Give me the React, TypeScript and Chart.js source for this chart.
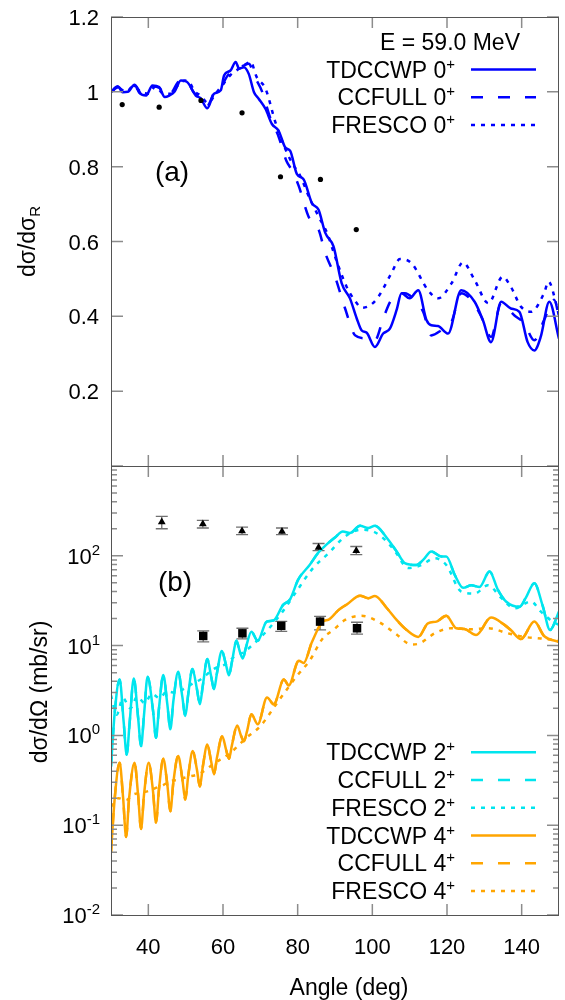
import React, { useEffect, useRef } from "react";
import { Chart, registerables } from "chart.js";
Chart.register(...registerables);

type Pt = [number, number];

const FONT = '"Liberation Sans", Arial, Helvetica, sans-serif';
const BLUE = "#0000ff";
const CYAN = "#00e5ee";
const ORANGE = "#ffa500";

// Axis ticks
const X_TICKS = [40, 60, 80, 100, 120, 140];
const YA_TICKS = [0.2, 0.4, 0.6, 0.8, 1.0, 1.2];
const YA_TICK_LABELS = ["0.2", "0.4", "0.6", "0.8", "1", "1.2"];
const YB_LABEL_EXPONENTS = [-2, -1, 0, 1, 2];

// Panel (a): elastic ratio, experiment
const EXP0_ANGLE = [33.0, 42.9, 54.1, 65.1, 75.4, 86.1, 95.7];
const EXP0_RATIO = [0.966, 0.959, 0.977, 0.944, 0.773, 0.766, 0.632];

// Panel (b): experiment (triangles: 2+, squares: 4+)
const EXP_TRI_ANGLE = [43.6, 54.6, 65.1, 75.8, 85.6, 95.7];
const EXP_TRI_XS = [238, 226, 189, 187, 124, 114];
const EXP_TRI_LO = [200, 204, 172, 172, 114, 103];
const EXP_TRI_HI = [275, 248, 209, 204, 137, 127];

const EXP_SQ_ANGLE = [54.7, 65.2, 75.6, 86.0, 95.9];
const EXP_SQ_XS = [12.8, 13.7, 16.6, 18.5, 15.6];
const EXP_SQ_LO = [11.0, 11.9, 14.4, 15.0, 13.4];
const EXP_SQ_HI = [14.6, 15.6, 18.6, 21.2, 18.2];

// Panel (a) calculations [angle, ratio]
const TD0: Pt[] = [[30,1.0],[31.8,1.015],[33.1,0.999],[34.5,1.0],[36.3,1.019],[37.6,0.997],[39.4,0.99],[41.1,1.017],[42.9,1.013],[44.4,0.986],[45.6,0.99],[47.0,1.0],[48.7,1.03],[50.3,1.027],[52.7,0.99],[54.0,0.983],[55.8,0.956],[57.6,0.995],[59.4,1.004],[60.3,1.044],[62.0,1.057],[63.4,1.08],[64.3,1.062],[65.6,1.066],[66.9,1.048],[68.3,0.999],[69.6,0.981],[71.4,0.954],[73.1,0.914],[74.9,0.896],[76.7,0.851],[78.0,0.842],[79.8,0.78],[81.6,0.766],[83.8,0.703],[85.6,0.685],[87.4,0.623],[89.6,0.587],[91.8,0.488],[94.0,0.448],[95.8,0.395],[97.1,0.363],[98.5,0.356],[100.7,0.318],[102.9,0.354],[104.7,0.367],[106.5,0.417],[107.8,0.462],[110.0,0.448],[112.3,0.47],[114.5,0.39],[115.8,0.376],[117.6,0.374],[120.3,0.354],[123.8,0.47],[127.4,0.439],[129.6,0.39],[131.8,0.331],[134.5,0.439],[137.1,0.421],[139.4,0.412],[141.6,0.331],[143.4,0.309],[145.1,0.345],[147.4,0.439],[150,0.34]];
const CC0: Pt[] = [[30,1.0],[32,1.012],[33.5,1.0],[35,1.005],[36.5,1.017],[38,0.995],[39.5,0.992],[41.2,1.015],[43,1.01],[44.5,0.99],[46,0.995],[48.5,1.03],[50.5,1.025],[52.5,0.995],[54,0.99],[55.8,0.963],[57.6,0.997],[59.4,1.01],[61,1.04],[62.5,1.055],[64,1.062],[65.5,1.07],[66.9,1.075],[68.5,1.04],[70.5,1.0],[72.5,0.935],[74.9,0.88],[77,0.815],[78.5,0.79],[80.3,0.748],[82.9,0.667],[85.6,0.632],[87.4,0.569],[90,0.506],[92.7,0.421],[95.4,0.349],[98,0.341],[100.7,0.336],[102.9,0.394],[105.1,0.444],[108.7,0.462],[111.3,0.444],[113.6,0.412],[115.8,0.349],[118.5,0.363],[121.2,0.385],[123.8,0.462],[126.9,0.439],[129.2,0.399],[131.8,0.345],[134.5,0.435],[138,0.403],[140.7,0.381],[143.4,0.336],[146,0.39],[148.7,0.444],[150,0.399]];
const FR0: Pt[] = [[30,1.0],[32,1.01],[34,1.0],[36,1.015],[38,1.0],[40,0.995],[42,1.015],[44,0.995],[46,0.995],[48.5,1.025],[50.5,1.03],[52.5,1.0],[54,0.99],[56,0.97],[58,0.995],[60,1.02],[62,1.045],[64,1.06],[65.5,1.07],[67.4,1.08],[69,1.04],[71.4,1.008],[74,0.92],[76.7,0.847],[78.5,0.81],[80.7,0.775],[83,0.72],[85.6,0.667],[88,0.62],[90,0.56],[93.1,0.479],[94.9,0.448],[97.3,0.423],[99.5,0.43],[101.6,0.452],[105.1,0.515],[107.4,0.553],[110.5,0.542],[114.9,0.47],[117.6,0.448],[121.2,0.488],[124.3,0.544],[127.4,0.497],[131.1,0.435],[134.9,0.506],[137.1,0.479],[139.8,0.426],[142.5,0.412],[146,0.462],[147.2,0.493],[149.2,0.435],[150,0.40]];

// Panel (b) calculations [angle, mb/sr]
const TD2: Pt[] = [[30,0.45],[31,1.8],[32.3,4.2],[33.4,1.4],[34.2,0.61],[35.0,1.4],[36.1,4.3],[37.25,1.6],[38.05,0.76],[38.85,1.7],[39.8,4.5],[41.25,1.9],[42.05,0.94],[42.85,2.0],[44,4.7],[45.1,2.2],[45.9,1.17],[46.7,2.4],[48,5.1],[49.1,2.7],[49.9,1.64],[50.7,2.9],[51.8,5.5],[53.0,3.3],[53.8,2.22],[54.6,3.6],[55.8,7.1],[56.8,4.6],[57.6,3.27],[58.4,5.0],[59.7,8.7],[60.8,6.1],[61.6,4.68],[62.4,6.6],[63.6,11.3],[64.5,8.6],[65.3,7.2],[66.1,9.4],[67.6,14.3],[69.3,11.3],[71.7,18.5],[73.5,19],[76.1,28.4],[78,33],[80.1,54],[83.2,79],[85.5,108],[87.7,133],[90,160],[92.1,187],[94,179],[96.7,216],[98.9,204],[100.7,216],[103.8,160],[106.5,112],[108.7,83],[111.8,79],[113.6,90],[115.8,112],[118.5,98],[119.8,98],[122.1,61],[124.3,44],[126.5,47],[128.7,45],[131.4,67],[133.6,42],[135.8,31],[139.4,27],[141.1,34],[143.4,49.5],[145.6,28],[147.6,14.9],[150,24]];
const CC2: Pt[] = TD2; // CCFULL 2+ lies on top of TDCCWP 2+
const FR2: Pt[] = [[30,2.8],[31.5,1.7],[33.2,2.6],[35.2,2.0],[37,2.7],[39,2.3],[41,2.9],[43,2.6],[45,3.1],[47,3.0],[49.6,3.3],[52,3.8],[54,4.2],[57.6,5.5],[61,6.3],[63,7.5],[65.6,8.5],[69.1,11.3],[72,15],[76,24],[80,42],[84,72],[88.3,107],[92.7,164],[97.1,195],[100.3,186],[103.4,151],[106.1,112],[109.6,73],[113.2,79],[116.7,94],[119.8,79],[123.8,40],[127.4,38],[131,47],[134.5,34],[138.1,26],[142.5,31],[145.1,24],[148.3,18.5],[150,17]];
const TD4: Pt[] = [[30,0.05],[31,0.2],[32.3,0.495],[33.25,0.2],[34.05,0.074],[34.85,0.2],[36.3,0.495],[37.25,0.22],[38.05,0.091],[38.85,0.22],[40.1,0.495],[41.25,0.24],[42.05,0.107],[42.85,0.25],[44,0.55],[45.1,0.28],[45.9,0.143],[46.7,0.3],[48,0.59],[49.1,0.33],[49.9,0.193],[50.7,0.36],[51.9,0.67],[53.0,0.42],[53.8,0.27],[54.6,0.45],[55.8,0.79],[56.8,0.52],[57.6,0.37],[58.4,0.57],[59.8,0.98],[60.8,0.7],[61.6,0.55],[62.4,0.78],[63.8,1.29],[64.8,1.0],[65.6,0.86],[66.4,1.1],[67.6,1.72],[69.3,1.33],[71.8,2.64],[73.6,2.22],[76.3,4.2],[77.6,3.6],[80.3,6.8],[81.6,6.4],[83.8,10.9],[86.7,18.5],[88.3,19.5],[91,25],[93.2,28.8],[96.7,36],[98.9,33.6],[100.7,35.7],[103.8,26.4],[106.5,19.3],[109.2,14.9],[112.3,12.5],[114.9,17.7],[117.2,18.5],[119.8,21.5],[122.5,15.6],[124.7,15.3],[127.8,13.1],[131.8,20.5],[135.4,17],[137.1,14.9],[139.8,11.8],[143.4,18.5],[146,12.8],[150,11]];
const CC4: Pt[] = TD4; // CCFULL 4+ lies on top of TDCCWP 4+
const FR4: Pt[] = [[30,0.16],[32,0.2],[34,0.19],[36,0.22],[38,0.23],[40,0.24],[42,0.26],[44,0.28],[46,0.31],[48,0.32],[50,0.34],[54,0.38],[58,0.5],[62,0.64],[66,0.92],[70,1.27],[74.5,2.3],[79.8,4.6],[83.2,6.8],[86.7,12],[89.6,15],[92.7,19.3],[97.1,21.5],[101.6,18.5],[106.1,13.7],[110.5,10.3],[112.7,10.6],[116.7,13.7],[121.1,15.6],[126.5,15.2],[131,15.6],[136.3,13.7],[140.7,12.5],[145.1,12],[150,11.5]];

const DASH = [12, 15];
const DOT = [4, 6];

const LEGEND_A: [string, string, number[]][] = [
  ["TDCCWP 0", BLUE, []],
  ["CCFULL 0", BLUE, DASH],
  ["FRESCO 0", BLUE, DOT],
];
const LEGEND_B: [string, string, number[]][] = [
  ["TDCCWP 2", CYAN, []],
  ["CCFULL 2", CYAN, DASH],
  ["FRESCO 2", CYAN, DOT],
  ["TDCCWP 4", ORANGE, []],
  ["CCFULL 4", ORANGE, DASH],
  ["FRESCO 4", ORANGE, DOT],
];

type Part = [string, number, number];
function drawRich(ctx: CanvasRenderingContext2D, parts: Part[], x: number, y: number, align: "left" | "right" | "center") {
  let w = 0;
  for (const p of parts) {
    ctx.font = `${p[1]}px ${FONT}`;
    w += ctx.measureText(p[0]).width;
  }
  let cx = align === "left" ? x : align === "right" ? x - w : x - w / 2;
  ctx.textAlign = "left";
  ctx.textBaseline = "alphabetic";
  for (const p of parts) {
    ctx.font = `${p[1]}px ${FONT}`;
    ctx.fillText(p[0], cx, y + p[2]);
    cx += ctx.measureText(p[0]).width;
  }
}

const curve = (data: Pt[], color: string, dash: number[], yAxisID: string) => ({
  type: "line",
  data: data.map(([x, y]) => ({ x, y })),
  yAxisID,
  xAxisID: "x",
  borderColor: color,
  borderWidth: 2.5,
  borderDash: dash,
  borderCapStyle: "butt",
  pointRadius: 0,
  fill: false,
  cubicInterpolationMode: "monotone",
});

const points = (xs: number[], ys: number[], style: string, r: number, yAxisID: string) => ({
  type: "line",
  data: xs.map((x, i) => ({ x, y: ys[i] })),
  yAxisID,
  xAxisID: "x",
  showLine: false,
  pointStyle: style,
  pointRadius: r,
  pointBackgroundColor: "#000",
  pointBorderColor: "#000",
  pointBorderWidth: 0,
});

const decor = {
  id: "decor",
  beforeDatasetsDraw(chart: any) {
    const { ctx, scales } = chart;
    const x = scales.x, yB = scales.yB;
    ctx.save();
    ctx.strokeStyle = "#707070";
    ctx.lineWidth = 1.3;
    const bars = (ang: number[], lo: number[], hi: number[]) => {
      ang.forEach((a, i) => {
        const px = x.getPixelForValue(a);
        const y1 = yB.getPixelForValue(lo[i]);
        const y2 = yB.getPixelForValue(hi[i]);
        ctx.beginPath();
        ctx.moveTo(px, y1); ctx.lineTo(px, y2);
        ctx.moveTo(px - 6, y1); ctx.lineTo(px + 6, y1);
        ctx.moveTo(px - 6, y2); ctx.lineTo(px + 6, y2);
        ctx.stroke();
      });
    };
    bars(EXP_TRI_ANGLE, EXP_TRI_LO, EXP_TRI_HI);
    bars(EXP_SQ_ANGLE, EXP_SQ_LO, EXP_SQ_HI);
    ctx.restore();
  },
  afterDraw(chart: any) {
    const { ctx, chartArea: ca, scales } = chart;
    const x = scales.x, yA = scales.yA, yB = scales.yB;
    const L = ca.left, R = ca.right;
    ctx.save();
    // tick marks (inward, mirrored)
    ctx.strokeStyle = "#8c8c8c";
    ctx.lineWidth = 1.5;
    ctx.beginPath();
    for (const v of X_TICKS) {
      const px = x.getPixelForValue(v);
      for (const [t, b] of [[yA.top, yA.bottom], [yB.top, yB.bottom]]) {
        ctx.moveTo(px, t); ctx.lineTo(px, t + 11);
        ctx.moveTo(px, b); ctx.lineTo(px, b - 11);
      }
    }
    for (const v of YA_TICKS) {
      const py = yA.getPixelForValue(v);
      ctx.moveTo(L, py); ctx.lineTo(L + 12, py);
      ctx.moveTo(R, py); ctx.lineTo(R - 12, py);
    }
    for (let d = -2; d <= 3; d++) {
      const base = Math.pow(10, d);
      const py = yB.getPixelForValue(base);
      ctx.moveTo(L, py); ctx.lineTo(L + 12, py);
      ctx.moveTo(R, py); ctx.lineTo(R - 12, py);
      if (d < 3) {
        for (let m = 2; m <= 9; m++) {
          const pm = yB.getPixelForValue(m * base);
          ctx.moveTo(L, pm); ctx.lineTo(L + 6, pm);
          ctx.moveTo(R, pm); ctx.lineTo(R - 6, pm);
        }
      }
    }
    ctx.stroke();
    // frame
    ctx.strokeStyle = "#555";
    ctx.lineWidth = 1;
    ctx.strokeRect(Math.round(L) + 0.5, Math.round(yA.top) + 0.5, Math.round(R - L) - 1, Math.round(yB.bottom - yA.top));
    ctx.beginPath();
    ctx.moveTo(L, Math.round(yA.bottom) + 0.5);
    ctx.lineTo(R, Math.round(yA.bottom) + 0.5);
    ctx.stroke();

    ctx.fillStyle = "#000";
    // y tick labels (a)
    YA_TICKS.forEach((v, i) => {
      const py = yA.getPixelForValue(v);
      drawRich(ctx, [[YA_TICK_LABELS[i], 22, 0]], 99, py + 8, "right");
    });
    // y tick labels (b)
    for (const e of YB_LABEL_EXPONENTS) {
      const py = yB.getPixelForValue(Math.pow(10, e));
      drawRich(ctx, [["10", 22, 0], [String(e), 15, -9]], 100, py + 8, "right");
    }
    // x tick labels
    for (const v of X_TICKS) {
      drawRich(ctx, [[String(v), 22, 0]], x.getPixelForValue(v), 954, "center");
    }
    // axis titles
    drawRich(ctx, [["Angle (deg)", 23, 0]], 349, 995, "center");
    ctx.save();
    ctx.translate(35, (yA.top + yA.bottom) / 2);
    ctx.rotate(-Math.PI / 2);
    drawRich(ctx, [["dσ/dσ", 23, 0], ["R", 15, 5]], 0, 0, "center");
    ctx.restore();
    ctx.save();
    ctx.translate(47, 692);
    ctx.rotate(-Math.PI / 2);
    drawRich(ctx, [["dσ/dΩ (mb/sr)", 23, 0]], 0, 0, "center");
    ctx.restore();

    // panel labels
    drawRich(ctx, [["(a)", 28, 0]], 172, 181, "center");
    drawRich(ctx, [["(b)", 28, 0]], 175, 591, "center");

    // legends
    drawRich(ctx, [["E = 59.0 MeV", 23, 0]], 520, 50, "right");
    const legend = (items: [string, string, number[]][], y0: number) => {
      items.forEach(([label, color, dash], i) => {
        const y = y0 + i * 27.75;
        drawRich(ctx, [[label, 23, 0], ["+", 15, -9]], 455, y + 8, "right");
        ctx.save();
        ctx.strokeStyle = color;
        ctx.lineWidth = 2.5;
        ctx.setLineDash(dash);
        ctx.beginPath();
        ctx.moveTo(471, y);
        ctx.lineTo(536, y);
        ctx.stroke();
        ctx.restore();
      });
    };
    legend(LEGEND_A, 69.5);
    legend(LEGEND_B, 752.3);
    ctx.restore();
  },
};

export default function App() {
  const ref = useRef<HTMLCanvasElement>(null);
  useEffect(() => {
    if (!ref.current) return;
    const datasets: any[] = [
      points(EXP0_ANGLE, EXP0_RATIO, "circle", 2.6, "yA"),
      points(EXP_TRI_ANGLE, EXP_TRI_XS, "triangle", 4.5, "yB"),
      points(EXP_SQ_ANGLE, EXP_SQ_XS, "rect", 6, "yB"),
      curve(TD0, BLUE, [], "yA"),
      curve(CC0, BLUE, DASH, "yA"),
      curve(FR0, BLUE, DOT, "yA"),
      curve(TD2, CYAN, [], "yB"),
      curve(TD4, ORANGE, [], "yB"),
      curve(CC2, CYAN, DASH, "yB"),
      curve(CC4, ORANGE, DASH, "yB"),
      curve(FR2, CYAN, DOT, "yB"),
      curve(FR4, ORANGE, DOT, "yB"),
    ];
    const hidden = { grid: { display: false }, border: { display: false }, ticks: { display: false } };
    const chart = new Chart(ref.current, {
      type: "line",
      data: { datasets },
      options: {
        responsive: false,
        animation: false,
        events: [],
        layout: { padding: { top: 17, right: 4, left: 0, bottom: 0 } },
        plugins: { legend: { display: false }, tooltip: { enabled: false } },
        scales: {
          x: { type: "linear", min: 30, max: 150, position: "bottom", ...hidden, afterFit: (s: any) => { s.height = 85; } },
          yB: { type: "logarithmic", min: 0.01, max: 1000, position: "left", stack: "panels", stackWeight: 1, ...hidden, afterFit: (s: any) => { s.width = 111; } },
          yA: { type: "linear", min: 0, max: 1.2, position: "left", stack: "panels", stackWeight: 1, ...hidden, afterFit: (s: any) => { s.width = 111; } },
        },
      } as any,
      plugins: [decor],
    });
    return () => chart.destroy();
  }, []);
  return (
    <div style={{ position: "absolute", left: 0, top: 0, width: 565, height: 1000, background: "#fff" }}>
      <canvas ref={ref} width={565} height={1000} style={{ display: "block" }} />
    </div>
  );
}
